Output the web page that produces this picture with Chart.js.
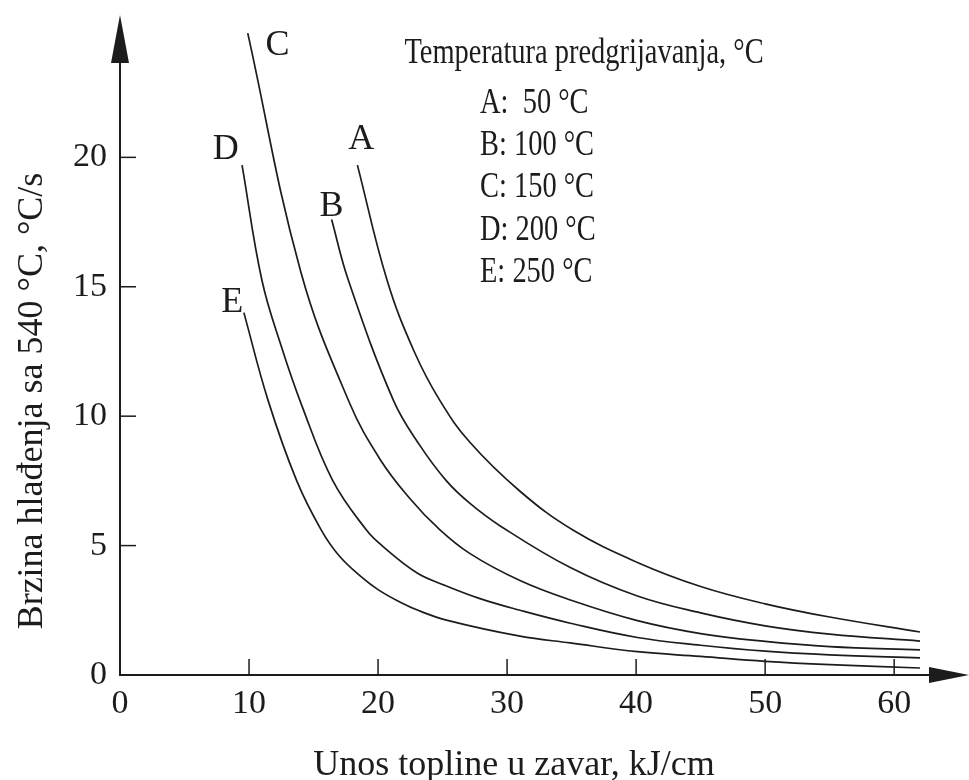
<!DOCTYPE html>
<html>
<head>
<meta charset="utf-8">
<script src="https://cdn.jsdelivr.net/npm/chart.js@4.4.1/dist/chart.umd.min.js"></script>
<style>
  html, body { margin: 0; padding: 0; background: #fff; }
  #wrap { width: 969px; height: 780px; }
</style>
</head>
<body>
<div id="wrap"><canvas id="coolingChart"></canvas></div>
<script>
// Curve names and preheat temperatures (legend block)
const curveNames = ["A", "B", "C", "D", "E"];
const legendLines = ["A:  50 °C", "B: 100 °C", "C: 150 °C", "D: 200 °C", "E: 250 °C"];

// Heat input, kJ/cm (x) and cooling rate at 540 °C, °C/s (y)
const heatA = [18.4, 20.7, 22.8, 24.8, 27.1, 31.0, 35.1, 40.1, 45.0, 50.0, 55.0, 62.0];
const rateA = [19.7, 15.25, 12.5, 10.6, 9.0, 7.1, 5.6, 4.35, 3.42, 2.75, 2.24, 1.66];

const heatB = [16.4, 17.7, 21.2, 23.2, 25.3, 27.1, 29.5, 34.9, 40.1, 45.0, 50.0, 55.0, 62.0];
const rateB = [17.6, 15.25, 10.6, 8.9, 7.5, 6.64, 5.75, 4.15, 3.05, 2.4, 1.9, 1.58, 1.31];

const heatC = [9.9, 14.0, 17.8, 20.2, 22.5, 24.6, 27.1, 31.0, 34.9, 40.1, 45.0, 50.0, 55.0, 62.0];
const rateC = [24.8, 15.6, 10.5, 8.3, 6.8, 5.7, 4.7, 3.65, 2.9, 2.1, 1.6, 1.3, 1.1, 0.97];

const heatD = [9.46, 11.0, 12.5, 14.1, 16.5, 19.1, 20.3, 23.0, 25.0, 27.9, 31.0, 34.9, 40.1, 45.0, 50.0, 55.0, 62.0];
const rateD = [19.7, 15.25, 12.7, 10.4, 7.5, 5.6, 5.0, 3.95, 3.5, 2.95, 2.5, 2.0, 1.45, 1.15, 0.92, 0.78, 0.66];

const heatE = [9.6, 11.47, 13.7, 15.6, 17.0, 18.8, 20.0, 21.5, 23.0, 25.3, 31.0, 34.9, 40.1, 45.0, 50.0, 55.0, 62.0];
const rateE = [14.0, 10.62, 7.5, 5.6, 4.6, 3.75, 3.3, 2.87, 2.52, 2.12, 1.5, 1.24, 0.9, 0.72, 0.53, 0.4, 0.27];

// Tick labels
const xTicks = [0, 10, 20, 30, 40, 50, 60];
const yTicks = [0, 5, 10, 15, 20];

const xTitle = "Unos topline u zavar, kJ/cm";
const yTitle = "Brzina hlađenja sa 540 °C, °C/s";
const legendTitle = "Temperatura predgrijavanja, °C";

const serif = "'Liberation Serif', 'Times New Roman', serif";
const ink = "#1c1c1c";

const heats = [heatA, heatB, heatC, heatD, heatE];
const rates = [rateA, rateB, rateC, rateD, rateE];

// Where each curve letter sits, in data units
const letterAt = { A: [18.7, 20.8], B: [16.4, 18.2], C: [12.2, 24.4], D: [8.2, 20.4], E: [8.7, 14.5] };

// draws the arrowed axes, inward ticks and all free text
const sketchPlugin = {
  id: "sketch",
  afterDraw(chart) {
    const { ctx, chartArea: a } = chart;
    const x = chart.scales.x, y = chart.scales.y;
    const x0 = x.getPixelForValue(0);
    const y0 = y.getPixelForValue(0);

    ctx.save();
    ctx.strokeStyle = ink;
    ctx.fillStyle = ink;

    // axes
    ctx.lineWidth = 2;
    ctx.beginPath();
    ctx.moveTo(x0, a.top + 40);
    ctx.lineTo(x0, y0);
    ctx.lineTo(a.right - 36, y0);
    ctx.stroke();

    // arrow heads
    ctx.beginPath();
    ctx.moveTo(x0, a.top);
    ctx.lineTo(x0 - 9, a.top + 48);
    ctx.lineTo(x0 + 9, a.top + 48);
    ctx.closePath();
    ctx.fill();
    ctx.beginPath();
    ctx.moveTo(a.right, y0);
    ctx.lineTo(a.right - 40, y0 - 8);
    ctx.lineTo(a.right - 40, y0 + 8);
    ctx.closePath();
    ctx.fill();

    // tick marks pointing into the plot
    ctx.lineWidth = 1.5;
    yTicks.forEach(v => {
      if (v === 0) return;
      const py = y.getPixelForValue(v);
      ctx.beginPath();
      ctx.moveTo(x0, py);
      ctx.lineTo(x0 + 16, py);
      ctx.stroke();
    });
    xTicks.forEach(v => {
      if (v === 0) return;
      const px = x.getPixelForValue(v);
      ctx.beginPath();
      ctx.moveTo(px, y0);
      ctx.lineTo(px, y0 - 16);
      ctx.stroke();
    });

    // axis titles
    ctx.font = "36px " + serif;
    ctx.textAlign = "center";
    ctx.textBaseline = "alphabetic";
    ctx.fillText(xTitle, 514, 775);
    ctx.save();
    ctx.translate(42, 401);
    ctx.rotate(-Math.PI / 2);
    ctx.fillText(yTitle, 0, 0);
    ctx.restore();

    // curve letters
    curveNames.forEach(n => {
      const p = letterAt[n];
      ctx.fillText(n, x.getPixelForValue(p[0]), y.getPixelForValue(p[1]) + 12);
    });

    // legend block, narrow lettering as in the source
    const squeeze = (text, tx, ty, align) => {
      ctx.save();
      ctx.translate(tx, ty);
      ctx.scale(0.79, 1);
      ctx.textAlign = align;
      ctx.fillText(text, 0, 0);
      ctx.restore();
    };
    squeeze(legendTitle, 584, 63, "center");
    legendLines.forEach((t, i) => squeeze(t, 480, 113 + i * 42.2, "left"));

    ctx.restore();
  }
};

document.addEventListener("DOMContentLoaded", () => {
  const ctx = document.getElementById("coolingChart").getContext("2d");

  new Chart(ctx, {
    type: "line",
    data: {
      datasets: curveNames.map((name, k) => ({
        label: name,
        data: heats[k].map((h, i) => ({ x: h, y: rates[k][i] })),
        borderColor: ink,
        borderWidth: 1.7,
        pointRadius: 0,
        fill: false,
        tension: 0.4,
      })),
    },
    options: {
      responsive: true,
      maintainAspectRatio: false,
      animation: false,
      layout: { padding: { top: 15, right: 0, left: 0, bottom: 0 } },
      plugins: {
        legend: { display: false },
        tooltip: { enabled: false },
      },
      scales: {
        x: {
          type: "linear",
          min: 0,
          max: 65.8,
          grid: { display: false, drawTicks: false },
          border: { display: false },
          afterFit: (s) => { s.height = 105; s.paddingLeft = 0; s.paddingRight = 0; },
          afterBuildTicks: (s) => { s.ticks = xTicks.map(v => ({ value: v })); },
          ticks: {
            autoSkip: false,
            maxRotation: 0,
            padding: 9,
            color: ink,
            font: { family: serif, size: 34 },
          },
        },
        y: {
          type: "linear",
          min: 0,
          max: 25.5,
          grid: { display: false, drawTicks: false },
          border: { display: false },
          afterFit: (s) => { s.width = 120; s.paddingTop = 0; s.paddingBottom = 0; },
          afterBuildTicks: (s) => { s.ticks = yTicks.map(v => ({ value: v })); },
          ticks: {
            padding: 13,
            color: ink,
            font: { family: serif, size: 34 },
          },
        },
      },
    },
    plugins: [sketchPlugin],
  });
});
</script>
</body>
</html>
